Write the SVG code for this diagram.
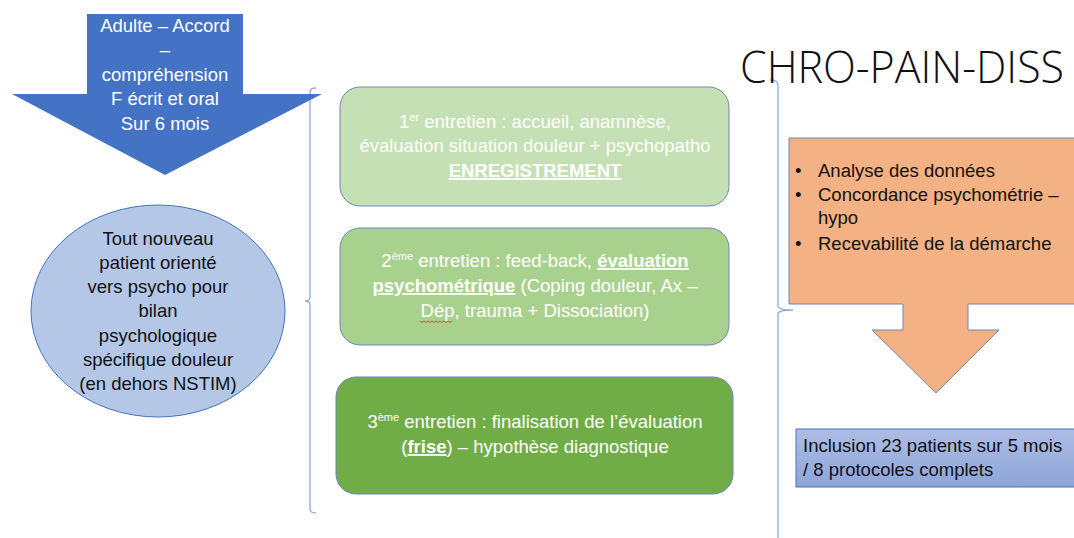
<svg xmlns="http://www.w3.org/2000/svg" width="1074" height="538" viewBox="0 0 1074 538">
<style>
.t{font-family:"Liberation Sans",Arial,sans-serif;font-size:18.5px}
.w{fill:#ffffff}
.k{fill:#111111}
.c{text-anchor:middle}
.u{text-decoration:underline;font-weight:bold}
.sup{font-size:11px}
.br{fill:none;stroke:#8faadc;stroke-width:1.3}
.box{stroke:#6e86b8;stroke-width:1}
</style>
<defs>
<linearGradient id="bg" x1="0" y1="0" x2="0" y2="1">
<stop offset="0" stop-color="#aebde5"/>
<stop offset="1" stop-color="#8da5d9"/>
</linearGradient>
</defs>
<rect width="1074" height="538" fill="#ffffff"/>

<g id="connectors">
<path class="br" d="M316,88 Q310,88 310,92 L310,297 Q310,301 305,301 Q310,301 310,305 L310,509 Q310,513 316,513"/>
<path class="br" d="M770,80 Q778,80 778,85 L778,306 Q778,310 793,310 Q778,310 778,314 L778,540"/>
</g>

<g id="arrow-blue">
<polygon points="87,14 243,14 243,94 322,94 165,175 12,94 87,94" fill="#4472c4"/>
<text class="t w c" x="165" y="32">Adulte – Accord</text>
<text class="t w c" x="165" y="56">–</text>
<text class="t w c" x="165" y="81">compréhension</text>
<text class="t w c" x="165" y="105">F écrit et oral</text>
<text class="t w c" x="165" y="130">Sur 6 mois</text>
</g>

<g id="ellipse-patient">
<ellipse cx="158" cy="311" rx="127" ry="106" fill="#b4c7e7" stroke="#4472c4" stroke-width="1"/>
<text class="t k c" x="158" y="245">Tout nouveau</text>
<text class="t k c" x="158" y="269">patient orienté</text>
<text class="t k c" x="158" y="293">vers psycho pour</text>
<text class="t k c" x="158" y="317">bilan</text>
<text class="t k c" x="158" y="342">psychologique</text>
<text class="t k c" x="158" y="366">spécifique douleur</text>
<text class="t k c" x="158" y="390">(en dehors NSTIM)</text>
</g>

<g id="box1">
<rect class="box" x="340" y="87" width="389" height="119" rx="20" fill="#c5e0b4"/>
<text class="t w c" x="535" y="128">1<tspan class="sup" dy="-7">er</tspan><tspan dy="7"> entretien : accueil, anamnèse,</tspan></text>
<text class="t w c" x="535" y="152">évaluation situation douleur + psychopatho</text>
<text class="t w c" x="535" y="177"><tspan class="u">ENREGISTREMENT</tspan></text>
</g>

<g id="box2">
<rect class="box" x="340" y="228" width="389" height="117" rx="20" fill="#a9d18e"/>
<text class="t w c" x="535" y="267">2<tspan class="sup" dy="-7">ème</tspan><tspan dy="7"> entretien : feed-back, </tspan><tspan class="u">évaluation</tspan></text>
<text class="t w c" x="535" y="292"><tspan class="u">psychométrique</tspan> (Coping douleur, Ax –</text>
<text class="t w c" x="535" y="317">Dép, trauma + Dissociation)</text>
<path d="M420,321 l2,1.5 l2,-1.5 l2,1.5 l2,-1.5 l2,1.5 l2,-1.5 l2,1.5 l2,-1.5 l2,1.5 l2,-1.5 l2,1.5 l2,-1.5 l2,1.5 l2,-1.5 l2,1.5 l2,-1.5" fill="none" stroke="#e03030" stroke-width="0.8"/>
</g>

<g id="box3">
<rect class="box" x="336" y="377" width="397" height="117" rx="20" fill="#70ad47"/>
<text class="t w c" x="535" y="428">3<tspan class="sup" dy="-7">ème</tspan><tspan dy="7"> entretien : finalisation de l’évaluation</tspan></text>
<text class="t w c" x="535" y="453">(<tspan class="u">frise</tspan>) – hypothèse diagnostique</text>
</g>

<g id="title">
<text x="740" y="83" font-family="'Open Sans','Liberation Sans',sans-serif" font-weight="300" font-size="44" fill="#111111" textLength="324" lengthAdjust="spacingAndGlyphs">CHRO-PAIN-DISS</text>
</g>

<g id="arrow-orange">
<polygon points="789,138 1080,138 1080,304 968,304 968,330 999,330 936,393 872,330 903,330 903,304 789,304" fill="#f4b183" stroke="#6e86b8" stroke-width="1"/>
<text class="t k" x="795" y="177">•</text>
<text class="t k" x="818" y="177">Analyse des données</text>
<text class="t k" x="795" y="201">•</text>
<text class="t k" x="818" y="201">Concordance psychométrie –</text>
<text class="t k" x="818" y="224">hypo</text>
<text class="t k" x="795" y="250">•</text>
<text class="t k" x="818" y="250">Recevabilité de la démarche</text>
</g>

<g id="box-inclusion">
<rect x="796" y="429" width="290" height="58" fill="url(#bg)" stroke="#4472c4" stroke-width="1"/>
<text class="t k" x="803" y="452">Inclusion 23 patients sur 5 mois</text>
<text class="t k" x="803" y="476">/ 8 protocoles complets</text>
</g>
</svg>
